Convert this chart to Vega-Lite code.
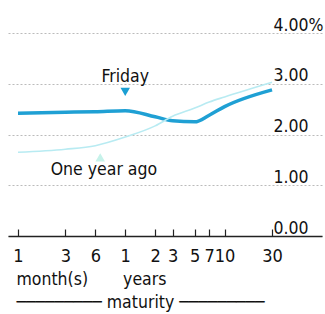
{
  "$schema": "https://vega.github.io/schema/vega-lite/v6.json",
  "autosize": {"type": "none"},
  "width": 314,
  "height": 203,
  "padding": {"left": 8, "top": 33, "right": 3, "bottom": 78},
  "background": "white",
  "config": {
    "view": {"stroke": null},
    "font": "DejaVu Sans Condensed",
    "axis": {"labelFont": "DejaVu Sans Condensed", "titleFont": "DejaVu Sans Condensed"}
  },
  "datasets": {
    "curves": [
      {"series": "Friday", "maturity": 0.0833333, "yield": 2.42},
      {"series": "Friday", "maturity": 0.25, "yield": 2.44},
      {"series": "Friday", "maturity": 0.5, "yield": 2.45},
      {"series": "Friday", "maturity": 1, "yield": 2.47},
      {"series": "Friday", "maturity": 2, "yield": 2.35},
      {"series": "Friday", "maturity": 3, "yield": 2.27},
      {"series": "Friday", "maturity": 5, "yield": 2.25},
      {"series": "Friday", "maturity": 7, "yield": 2.38},
      {"series": "Friday", "maturity": 10, "yield": 2.55},
      {"series": "Friday", "maturity": 30, "yield": 2.88},
      {"series": "One year ago", "maturity": 0.0833333, "yield": 1.65},
      {"series": "One year ago", "maturity": 0.25, "yield": 1.71},
      {"series": "One year ago", "maturity": 0.5, "yield": 1.78},
      {"series": "One year ago", "maturity": 1, "yield": 1.95},
      {"series": "One year ago", "maturity": 2, "yield": 2.17},
      {"series": "One year ago", "maturity": 3, "yield": 2.36},
      {"series": "One year ago", "maturity": 5, "yield": 2.52},
      {"series": "One year ago", "maturity": 7, "yield": 2.64},
      {"series": "One year ago", "maturity": 10, "yield": 2.74},
      {"series": "One year ago", "maturity": 30, "yield": 3.03}
    ],
    "labels": [
      {"series": "Friday", "text": "Friday", "maturity": 1.0, "yield": 3.03},
      {"series": "One year ago", "text": "One year ago", "maturity": 0.61, "yield": 1.2}
    ],
    "markers": [
      {"series": "Friday", "shape": "triangle-down", "maturity": 1.0, "yield": 2.84},
      {"series": "One year ago", "shape": "triangle-up", "maturity": 0.56, "yield": 1.55}
    ]
  },
  "layer": [
    {
      "data": {"name": "curves"},
      "transform": [{"filter": "datum.series === 'Friday'"}],
      "mark": {"type": "line", "color": "#1fa0d4", "strokeWidth": 3.5, "interpolate": "monotone"},
      "encoding": {
        "x": {
          "field": "maturity", "type": "quantitative",
          "scale": {"type": "log", "domain": [0.0661, 95.5], "nice": false},
          "axis": {
            "values": [0.0833333, 0.25, 0.5, 1, 2, 3, 5, 7, 10, 30],
            "labelExpr": "datum.value < 0.9 ? format(round(datum.value * 12), 'd') : format(datum.value, 'd')",
            "labelOverlap": false,
            "labelFlush": false,
            "labelFontSize": 18,
            "labelColor": "#111",
            "labelPadding": 18,
            "tickSize": -7,
            "tickColor": "#222",
            "tickWidth": 1.2,
            "domainColor": "#222",
            "domainWidth": 1.5,
            "grid": false,
            "title": ["month(s)\u00a0\u00a0\u00a0\u00a0\u00a0\u00a0\u00a0years", "─────────\u00a0maturity\u00a0─────────"],
            "titleFontSize": 17.5,
            "titleFontWeight": "normal",
            "titleColor": "#111",
            "titleAnchor": "start",
            "titleAlign": "left",
            "titleBaseline": "alphabetic",
            "titleX": 8,
            "titleY": 48,
            "titleLineHeight": 23
          }
        },
        "y": {
          "field": "yield", "type": "quantitative",
          "scale": {"domain": [0, 4], "nice": false, "zero": true},
          "axis": {
            "orient": "right",
            "values": [0, 1, 2, 3, 4],
            "labelExpr": "datum.value == 4 ? '4.00%' : format(datum.value, '.2f')",
            "labelAlign": "left",
            "labelBaseline": "alphabetic",
            "labelOffset": -3,
            "labelPadding": -49,
            "labelFontSize": 17.5,
            "labelColor": "#111",
            "ticks": false,
            "domain": false,
            "grid": true,
            "gridColor": "#bbbbbb",
            "gridDash": [2, 2],
            "gridWidth": 1,
            "title": null
          }
        }
      }
    },
    {
      "data": {"name": "curves"},
      "transform": [{"filter": "datum.series === 'One year ago'"}],
      "mark": {"type": "line", "color": "#b8ebf2", "strokeWidth": 1.6, "interpolate": "monotone"},
      "encoding": {
        "x": {"field": "maturity", "type": "quantitative"},
        "y": {"field": "yield", "type": "quantitative"}
      }
    },
    {
      "data": {"name": "markers"},
      "mark": {"type": "point", "filled": true, "size": 90, "opacity": 1},
      "encoding": {
        "x": {"field": "maturity", "type": "quantitative"},
        "y": {"field": "yield", "type": "quantitative"},
        "shape": {"field": "shape", "type": "nominal", "scale": null},
        "color": {"field": "series", "type": "nominal", "scale": {"domain": ["Friday", "One year ago"], "range": ["#1b9fd3", "#c6f2ea"]}, "legend": null}
      }
    },
    {
      "data": {"name": "labels"},
      "mark": {"type": "text", "fontSize": 17.5, "color": "#111", "align": "center", "baseline": "alphabetic"},
      "encoding": {
        "x": {"field": "maturity", "type": "quantitative"},
        "y": {"field": "yield", "type": "quantitative"},
        "text": {"field": "text"}
      }
    }
  ]
}
